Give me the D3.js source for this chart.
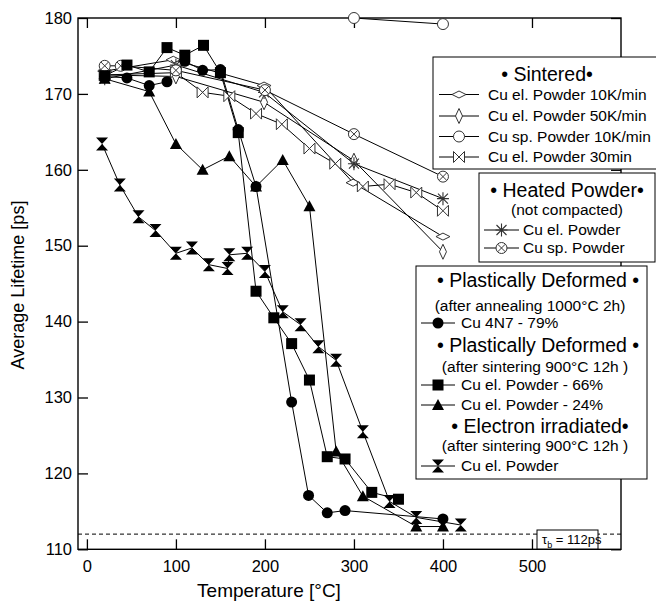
<!DOCTYPE html>
<html>
<head>
<meta charset="utf-8">
<script src="https://cdn.jsdelivr.net/npm/d3@7"></script>
<style>
  body { margin: 0; background: #fff; }
  svg { font-family: "Liberation Sans", Arial, sans-serif; }
  .axis text { font-size: 16.5px; fill: #000; }
  .axis path { display: none; }
  .axis line { stroke: #000; stroke-width: 1.3; }
</style>
</head>
<body>
<svg id="chart" width="656" height="604"></svg>
<script>
// Temperature [°C] / lifetime [ps] pairs for each sample
const sint10K = [[20, 173.0], [97, 174.5], [199, 171.1], [299, 158.3], [400, 151.2]];
const sint50K = [[20, 172.5], [100, 172.3], [199, 168.9], [300, 161.2], [400, 149.2]];
const sintSp10K = [[300, 180.0], [400, 179.2]];
const sint30min = [[20, 172.5], [100, 172.8], [130, 170.2], [160, 169.7], [190, 167.4], [219, 166.0],
  [250, 162.8], [279, 160.8], [310, 157.8], [340, 158.1], [370, 157.0], [400, 154.6]];
const heatEl = [[20, 172.0], [100, 173.8], [199, 170.2], [300, 160.8], [400, 156.2]];
const heatSp = [[20, 173.7], [38, 173.7], [100, 173.1], [200, 170.5], [300, 164.7], [400, 159.1]];
const def4N7 = [[20, 172.3], [45, 172.1], [70, 171.1], [90, 171.6], [110, 174.3], [130, 173.1],
  [150, 173.2], [170, 165.3], [190, 157.8], [230, 129.4], [249, 117.1], [270, 114.8], [290, 115.1], [400, 114.0]];
const def66 = [[20, 172.4], [45, 173.8], [70, 172.9], [90, 176.1], [110, 175.1], [131, 176.4],
  [150, 172.8], [170, 164.9], [190, 144.0], [210, 140.5], [230, 137.1], [250, 132.3], [270, 122.2],
  [290, 121.9], [320, 117.5], [350, 116.6]];
const def24 = [[20, 172.0], [70, 170.3], [100, 163.4], [130, 160.0], [160, 161.8], [190, 157.8],
  [220, 161.3], [250, 155.2], [280, 122.9], [310, 117.0], [370, 113.0], [400, 113.0]];
const irrad = [[17, 163.4], [37, 158.0], [58, 153.8], [77, 152.0], [100, 149.0], [118, 149.7],
  [137, 147.5], [158, 147.0], [160, 148.8], [180, 149.0], [200, 146.6], [220, 141.3], [240, 139.6],
  [260, 136.7], [280, 134.9], [310, 125.5], [340, 116.3], [370, 114.2], [420, 113.2]];

const xTicks = [0, 100, 200, 300, 400, 500];
const yTicks = [110, 120, 130, 140, 150, 160, 170, 180];
const tauB = 112;

const series = [
  { data: sint10K, mark: "diamH" },
  { data: sint50K, mark: "diamV" },
  { data: sintSp10K, mark: "circO" },
  { data: sint30min, mark: "bowtie" },
  { data: heatEl, mark: "aster" },
  { data: heatSp, mark: "circX" },
  { data: def4N7, mark: "circF" },
  { data: def66, mark: "squareF" },
  { data: def24, mark: "triF" },
  { data: irrad, mark: "hourF" }
];

const svg = d3.select("#chart");
const x = d3.scaleLinear().domain([-10, 600]).range([78, 621]);
const y = d3.scaleLinear().domain([110, 180]).range([549.3, 18]);

// draw one marker symbol into a group centered at 0,0
function marker(g, type) {
  const open = { fill: "#fff", stroke: "#333", "stroke-width": 1 };
  const set = (sel, attrs) => { for (const k in attrs) sel.attr(k, attrs[k]); return sel; };
  switch (type) {
    case "circF": g.append("circle").attr("r", 5.5).attr("fill", "#000"); break;
    case "squareF": g.append("rect").attr("x", -5.5).attr("y", -5.5).attr("width", 11).attr("height", 11).attr("fill", "#000"); break;
    case "triF": g.append("path").attr("d", "M0,-6 L6,5 L-6,5 Z").attr("fill", "#000"); break;
    case "hourF": g.append("path").attr("d", "M-6,-6.5 L6,-6.5 L0,0 L6,6.5 L-6,6.5 L0,0 Z").attr("fill", "#000"); break;
    case "diamH": set(g.append("path").attr("d", "M-7,0 L0,-3.5 L7,0 L0,3.5 Z"), open); break;
    case "diamV": set(g.append("path").attr("d", "M0,-7.5 L3.5,0 L0,7.5 L-3.5,0 Z"), open); break;
    case "circO": set(g.append("circle").attr("r", 5.5), open); break;
    case "bowtie": set(g.append("path").attr("d", "M-5.5,-5.5 L0,0 L-5.5,5.5 Z M5.5,-5.5 L0,0 L5.5,5.5 Z"), open); break;
    case "aster":
      g.append("path").attr("d", "M-6,0 L6,0 M0,-6.5 L0,6.5 M-5,-5 L5,5 M-5,5 L5,-5")
        .attr("stroke", "#333").attr("stroke-width", 1.1); break;
    case "circX":
      set(g.append("circle").attr("r", 5.5), open);
      g.append("path").attr("d", "M-3.8,-3.8 L3.8,3.8 M-3.8,3.8 L3.8,-3.8").attr("stroke", "#333"); break;
  }
}

// dashed bulk lifetime line
svg.append("line")
  .attr("x1", x(-10)).attr("x2", x(600)).attr("y1", y(tauB)).attr("y2", y(tauB))
  .attr("stroke", "#000").attr("stroke-dasharray", "4,3");

// axes with inward ticks
svg.append("g").attr("class", "axis").attr("transform", `translate(0,${y(110)})`)
  .call(d3.axisBottom(x).tickValues(xTicks).tickSizeInner(-10).tickSizeOuter(0).tickPadding(11));
svg.append("g").attr("class", "axis").attr("transform", `translate(0,${y(180)})`)
  .call(d3.axisTop(x).tickValues(xTicks).tickSizeInner(-10).tickSizeOuter(0).tickFormat(""));
svg.append("g").attr("class", "axis").attr("transform", `translate(${x(-10)},0)`)
  .call(d3.axisLeft(y).tickValues(yTicks).tickSizeInner(-10).tickSizeOuter(0).tickPadding(6));
svg.append("g").attr("class", "axis").attr("transform", `translate(${x(600)},0)`)
  .call(d3.axisRight(y).tickValues(yTicks).tickSizeInner(-10).tickSizeOuter(0).tickFormat(""));

svg.append("rect")
  .attr("x", x(-10)).attr("y", y(180))
  .attr("width", x(600) - x(-10)).attr("height", y(110) - y(180))
  .attr("fill", "none").attr("stroke", "#000").attr("stroke-width", 1.4);

// series lines then markers
const line = d3.line().x(d => x(d[0])).y(d => y(d[1]));
svg.append("g").selectAll("path").data(series).join("path")
  .attr("d", s => line(s.data)).attr("fill", "none").attr("stroke", "#000").attr("stroke-width", 1);

series.forEach(s => {
  svg.append("g").selectAll("g").data(s.data).join("g")
    .attr("transform", d => `translate(${x(d[0])},${y(d[1])})`)
    .each(function () { marker(d3.select(this), s.mark); });
});

// axis titles
svg.append("text").attr("x", 269).attr("y", 597).attr("text-anchor", "middle")
  .attr("font-size", 19).text("Temperature [°C]");
svg.append("text").attr("transform", "translate(24,285) rotate(-90)").attr("text-anchor", "middle")
  .attr("font-size", 18).text("Average Lifetime [ps]");

// tau_b label
const tb = svg.append("g");
tb.append("rect").attr("x", 537).attr("y", 530).attr("width", 61).attr("height", 19)
  .attr("fill", "#fff").attr("stroke", "#000").attr("stroke-width", 1);
const tbt = tb.append("text").attr("x", 542).attr("y", 544).attr("font-size", 13);
tbt.append("tspan").text("τ");
tbt.append("tspan").attr("font-size", 9).attr("dy", 4).text("b");
tbt.append("tspan").attr("dy", -4).text(" = 112ps");

// legend boxes
function box(x0, y0, w, h) {
  svg.append("rect").attr("x", x0).attr("y", y0).attr("width", w).attr("height", h)
    .attr("fill", "#fff").attr("stroke", "#000").attr("stroke-width", 1);
}
function title(cx, by, txt, size) {
  svg.append("text").attr("x", cx).attr("y", by).attr("text-anchor", "middle")
    .attr("font-size", size).text(txt);
}
function entry(x1, x2, tx, cy, mark, txt) {
  svg.append("line").attr("x1", x1).attr("x2", x2).attr("y1", cy).attr("y2", cy)
    .attr("stroke", "#000").attr("stroke-width", 1);
  marker(svg.append("g").attr("transform", `translate(${(x1 + x2) / 2},${cy})`), mark);
  svg.append("text").attr("x", tx).attr("y", cy + 5).attr("font-size", 15.5).text(txt);
}

box(433, 57, 240, 112);
title(547, 81, "• Sintered•", 19.5);
entry(439, 479, 488, 94.5, "diamH", "Cu el. Powder 10K/min");
entry(439, 479, 488, 116, "diamV", "Cu el. Powder 50K/min");
entry(439, 479, 488, 136.5, "circO", "Cu sp. Powder 10K/min");
entry(439, 479, 488, 157, "bowtie", "Cu el. Powder 30min");

box(479, 173, 176, 89);
title(567, 197, "• Heated Powder•", 19.5);
title(567, 215, "(not compacted)", 15.5);
entry(484, 519, 523, 230, "aster", "Cu el. Powder");
entry(484, 519, 523, 248, "circX", "Cu sp. Powder");

box(416, 266, 231, 213);
title(538, 287, "• Plastically Deformed •", 19.5);
title(530, 311, "(after annealing 1000°C 2h)", 15.5);
entry(421, 455, 461, 323, "circF", "Cu 4N7 - 79%");
title(538, 352, "• Plastically Deformed •", 19.5);
title(535, 372, "(after sintering 900°C 12h )", 15.5);
entry(421, 455, 461, 385, "squareF", "Cu el. Powder - 66%");
entry(421, 455, 461, 405, "triF", "Cu el. Powder - 24%");
title(540, 433, "• Electron irradiated•", 19.5);
title(535, 451, "(after sintering 900°C 12h )", 15.5);
entry(421, 455, 461, 466, "hourF", "Cu el. Powder");
</script>
</body>
</html>
